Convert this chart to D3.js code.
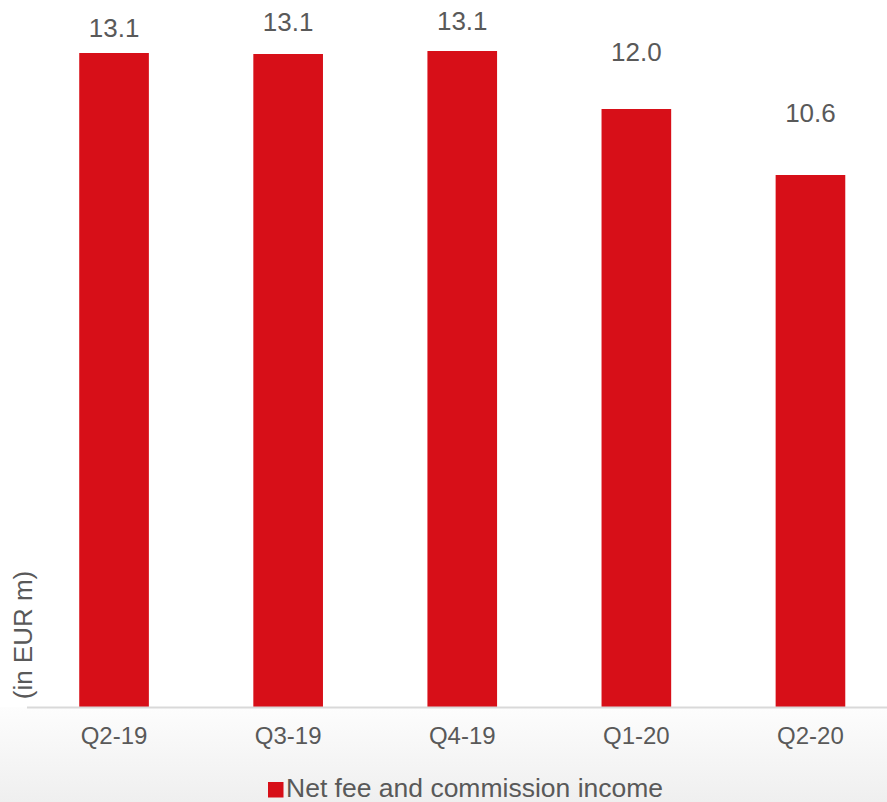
<!DOCTYPE html>
<html>
<head>
<meta charset="utf-8">
<script src="https://cdn.jsdelivr.net/npm/d3@7"></script>
<style>
  html, body { margin: 0; padding: 0; background: #ffffff; }
  svg { display: block; }
  text { font-family: "Liberation Sans", Arial, sans-serif; fill: #595959; }
</style>
</head>
<body>
<svg id="chart" width="887" height="802"></svg>
<script>
// ---- data ----
const categories = ["Q2-19", "Q3-19", "Q4-19", "Q1-20", "Q2-20"];
const values = [13.08, 13.06, 13.12, 11.96, 10.64];
const seriesName = "Net fee and commission income";
const axisTitle = "(in EUR m)";

// ---- layout (not data) ----
const W = 887, H = 802;
const baseY = 707;
const labelGap = [16.5, 23.3, 21, 48.3, 52.7];
const red = "#d70f18";

const svg = d3.select("#chart");

// background gradient below axis
const defs = svg.append("defs");
const grad = defs.append("linearGradient").attr("id", "bg").attr("x1", 0).attr("y1", 0).attr("x2", 0).attr("y2", 1);
grad.append("stop").attr("offset", "0%").attr("stop-color", "#fdfdfd");
grad.append("stop").attr("offset", "100%").attr("stop-color", "#efefef");
svg.append("rect").attr("x", 0).attr("y", baseY).attr("width", W).attr("height", H - baseY).attr("fill", "url(#bg)");

const x = d3.scaleBand().domain(categories).range([27, 897.5]).paddingInner(0.6).paddingOuter(0.3);
const y = d3.scaleLinear().domain([0, 14]).range([baseY, 7]);

// bars
svg.append("g").selectAll("rect").data(values).join("rect")
  .attr("x", (d, i) => x(categories[i]))
  .attr("y", d => y(d))
  .attr("width", x.bandwidth())
  .attr("height", d => y(0) - y(d))
  .attr("fill", red);

// value labels
const fmt = d3.format(".1f");
svg.append("g").selectAll("text").data(values).join("text")
  .attr("x", (d, i) => x(categories[i]) + x.bandwidth() / 2)
  .attr("y", (d, i) => y(d) - labelGap[i])
  .attr("text-anchor", "middle")
  .style("font-size", "26px")
  .text(d => fmt(d));

// x axis
const xAxis = svg.append("g").attr("transform", `translate(0,${baseY})`)
  .call(d3.axisBottom(x).tickSize(0).tickPadding(0));
xAxis.select(".domain").remove();
xAxis.append("line").attr("x1", 27).attr("x2", W).attr("y1", 0.5).attr("y2", 0.5)
  .attr("stroke", "#d9d9d9").attr("stroke-width", 2);
xAxis.selectAll(".tick text")
  .attr("y", 37).attr("dy", 0)
  .style("font-size", "24px")
  .style("font-family", "'Liberation Sans', Arial, sans-serif")
  .attr("fill", "#595959");

// y axis title
svg.append("text")
  .attr("transform", "translate(32,635) rotate(-90)")
  .attr("text-anchor", "middle")
  .style("font-size", "26px")
  .text(axisTitle);

// legend
const lg = svg.append("g");
lg.append("rect").attr("x", 268).attr("y", 782).attr("width", 15.5).attr("height", 15.5).attr("fill", red);
lg.append("text").attr("x", 286).attr("y", 797).style("font-size", "26.5px").text(seriesName);
</script>
</body>
</html>
